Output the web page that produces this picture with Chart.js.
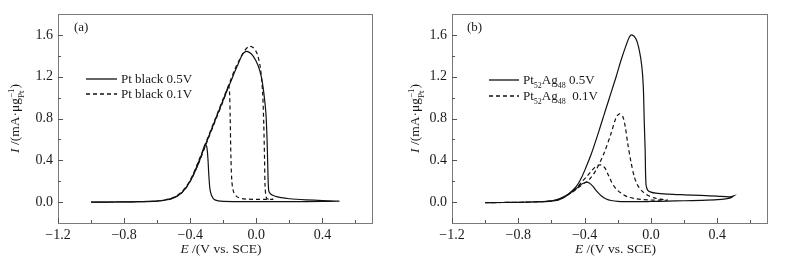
<!DOCTYPE html>
<html>
<head>
<meta charset="utf-8">
<script src="https://cdn.jsdelivr.net/npm/chart.js@4.4.1/dist/chart.umd.min.js"></script>
<style>
  body { margin: 0; background: #fff; }
  #wrap { position: relative; width: 785px; height: 262px; }
  canvas { position: absolute; top: 0; }
  #chartA { left: 0; }
  #chartB { left: 393px; }
</style>
</head>
<body>
<div id="wrap">
  <canvas id="chartA" width="393" height="262"></canvas>
  <canvas id="chartB" width="392" height="262"></canvas>
</div>
<script>
// axis ticks
const xTicks = [-1.2, -0.8, -0.4, 0, 0.4];
const xMinor = [-1.0, -0.6, -0.2, 0.2, 0.6];
const yTicks = [0, 0.4, 0.8, 1.2, 1.6];
const yMinor = [0.2, 0.6, 1.0, 1.4];

const xTitle = "*E* /(V vs. SCE)";
const yTitle = "*I* /(mA·μg_{Pt}^{−1})";

// panel (a) Pt black
const aLabels = ["Pt black 0.5V", "Pt black 0.1V"];
const aSolidE = [-1.0, -0.9, -0.8, -0.7, -0.6, -0.55, -0.5, -0.45, -0.4, -0.35, -0.33, -0.31, -0.3, -0.293, -0.287, -0.28, -0.27, -0.255, -0.23, -0.2, -0.1, 0.0, 0.2, 0.4, 0.5,
  0.5, 0.4, 0.3, 0.2, 0.15, 0.11, 0.085, 0.075, 0.07, 0.065, 0.058, 0.045, 0.03, 0.01, -0.02, -0.045, -0.065, -0.085, -0.105, -0.13, -0.15, -0.2, -0.25, -0.3, -0.35, -0.4, -0.45, -0.5, -0.55, -0.6, -0.7, -0.8, -1.0];
const aSolidI = [0, 0, 0.002, 0.004, 0.01, 0.02, 0.04, 0.09, 0.2, 0.37, 0.46, 0.55, 0.53, 0.42, 0.25, 0.12, 0.06, 0.025, 0.012, 0.007, 0.005, 0.005, 0.005, 0.006, 0.008,
  0.01, 0.015, 0.022, 0.032, 0.042, 0.058, 0.08, 0.11, 0.3, 0.6, 0.85, 1.05, 1.2, 1.31, 1.4, 1.435, 1.44, 1.41, 1.34, 1.25, 1.17, 0.98, 0.78, 0.58, 0.38, 0.2, 0.09, 0.04, 0.02, 0.01, 0.004, 0.002, 0];
const aDashE = [-1.0, -0.9, -0.8, -0.7, -0.6, -0.55, -0.5, -0.45, -0.4, -0.35, -0.3, -0.25, -0.2, -0.18, -0.168, -0.162, -0.158, -0.154, -0.148, -0.138, -0.12, -0.09, -0.05, 0.0, 0.05, 0.1,
  0.1, 0.07, 0.06, 0.053, 0.05, 0.045, 0.038, 0.025, 0.005, -0.02, -0.045, -0.07, -0.1, -0.13, -0.15, -0.2, -0.25, -0.3, -0.35, -0.4, -0.45, -0.5, -0.55, -0.6, -0.7, -0.8, -1.0];
const aDashI = [0, 0, 0.002, 0.004, 0.01, 0.02, 0.04, 0.09, 0.2, 0.37, 0.57, 0.77, 0.97, 1.06, 1.12, 1.05, 0.8, 0.45, 0.2, 0.1, 0.055, 0.035, 0.028, 0.026, 0.026, 0.027,
  0.028, 0.03, 0.045, 0.15, 0.4, 0.75, 1.05, 1.28, 1.42, 1.48, 1.49, 1.45, 1.37, 1.27, 1.19, 0.99, 0.79, 0.59, 0.39, 0.21, 0.1, 0.045, 0.022, 0.011, 0.004, 0.002, 0];

// panel (b) Pt52Ag48
const bLabels = ["Pt_{52}Ag_{48} 0.5V", "Pt_{52}Ag_{48}  0.1V"];
const bSolidE = [-1.0, -0.9, -0.8, -0.7, -0.6, -0.55, -0.5, -0.45, -0.42, -0.39, -0.37, -0.35, -0.33, -0.3, -0.27, -0.24, -0.2, -0.1, 0.0, 0.1, 0.2, 0.3, 0.4, 0.45, 0.48, 0.5,
  0.5, 0.47, 0.4, 0.3, 0.2, 0.1, 0.03, 0.0, -0.02, -0.03, -0.035, -0.04, -0.046, -0.055, -0.07, -0.09, -0.115, -0.13, -0.15, -0.18, -0.21, -0.24, -0.27, -0.3, -0.33, -0.36, -0.39, -0.42, -0.45, -0.5, -0.55, -0.6, -0.7, -0.8, -1.0];
const bSolidI = [-0.005, -0.004, -0.002, 0.002, 0.01, 0.025, 0.07, 0.13, 0.17, 0.19, 0.18, 0.15, 0.11, 0.06, 0.03, 0.015, 0.007, 0.004, 0.006, 0.009, 0.013, 0.017, 0.023, 0.03, 0.04, 0.06,
  0.06, 0.05, 0.058, 0.064, 0.07, 0.077, 0.085, 0.095, 0.115, 0.17, 0.5, 0.75, 1.1, 1.3, 1.45, 1.56, 1.6, 1.58, 1.5, 1.36, 1.2, 1.05, 0.9, 0.75, 0.6, 0.46, 0.34, 0.23, 0.15, 0.075, 0.035, 0.013, 0.003, -0.002, -0.005];
const bDashE = [-1.0, -0.9, -0.8, -0.7, -0.6, -0.55, -0.5, -0.45, -0.42, -0.39, -0.36, -0.34, -0.32, -0.305, -0.29, -0.275, -0.26, -0.24, -0.22, -0.2, -0.17, -0.14, -0.1, -0.06, 0.0, 0.05, 0.1,
  0.1, 0.06, 0.02, -0.02, -0.05, -0.08, -0.1, -0.12, -0.14, -0.155, -0.17, -0.19, -0.21, -0.24, -0.28, -0.33, -0.37, -0.42, -0.46, -0.5, -0.55, -0.6, -0.7, -0.8, -1.0];
const bDashI = [-0.005, -0.004, -0.002, 0.002, 0.01, 0.025, 0.07, 0.13, 0.19, 0.24, 0.295, 0.33, 0.352, 0.357, 0.348, 0.32, 0.27, 0.2, 0.145, 0.11, 0.075, 0.05, 0.035, 0.025, 0.02, 0.018, 0.018,
  0.02, 0.028, 0.04, 0.065, 0.1, 0.16, 0.24, 0.38, 0.56, 0.72, 0.82, 0.845, 0.81, 0.66, 0.48, 0.31, 0.22, 0.16, 0.11, 0.07, 0.03, 0.012, 0.002, -0.002, -0.005];

const ink = "#1a1a1a";
const serif = "'Liberation Serif', 'Times New Roman', serif";

const toPoints = (es, is) => es.map((e, i) => ({ x: e, y: is[i] }));
const fmt = (v) => (v < 0 ? "\u2212" : "") + Math.abs(v).toFixed(1);

// split "*I* /(mA·μg_{Pt}^{−1})" into runs: italic, sub, sup, normal
function parseRich(str) {
  const parts = [];
  const re = /\*([^*]*)\*|_\{([^}]*)\}|\^\{([^}]*)\}|([^*_^]+)/g;
  let m;
  while ((m = re.exec(str)) !== null) {
    if (m[1] !== undefined) parts.push({ t: m[1], k: "i" });
    else if (m[2] !== undefined) parts.push({ t: m[2], k: "sub" });
    else if (m[3] !== undefined) parts.push({ t: m[3], k: "sup" });
    else parts.push({ t: m[4], k: "n" });
  }
  return parts;
}

function runFont(k, size) {
  if (k === "i") return "italic " + size + "px " + serif;
  if (k === "sub" || k === "sup") return Math.round(size * 0.65) + "px " + serif;
  return size + "px " + serif;
}

function richWidth(ctx, parts, size) {
  let w = 0, lastStart = 0, lastW = 0, prev = null;
  parts.forEach((p) => {
    ctx.font = runFont(p.k, size);
    const pw = ctx.measureText(p.t).width;
    if (p.k === "sup" && prev === "sub") {
      w = lastStart + Math.max(lastW, pw);
    } else {
      lastStart = w;
      lastW = pw;
      w += pw;
    }
    prev = p.k;
  });
  return w;
}

// draws from x (left or centred), vertical middle at y
function drawRich(ctx, str, x, y, size, align) {
  const parts = parseRich(str);
  let cx = x;
  if (align === "center") cx = x - richWidth(ctx, parts, size) / 2;
  let lastStart = cx, lastW = 0, prev = null;
  ctx.textBaseline = "alphabetic";
  ctx.textAlign = "left";
  const base = y + size * 0.33;
  parts.forEach((p) => {
    ctx.font = runFont(p.k, size);
    const pw = ctx.measureText(p.t).width;
    let dy = 0;
    if (p.k === "sub") dy = size * 0.3;
    if (p.k === "sup") dy = -size * 0.4;
    if (p.k === "sup" && prev === "sub") {
      ctx.fillText(p.t, lastStart, base + dy);
      cx = lastStart + Math.max(lastW, pw);
    } else {
      ctx.fillText(p.t, cx, base + dy);
      lastStart = cx;
      lastW = pw;
      cx += pw;
    }
    prev = p.k;
  });
}

const decorPlugin = {
  id: "decor",
  afterDraw(chart, args, opts) {
    const ctx = chart.ctx;
    const a = chart.chartArea;
    const xs = chart.scales.x, ys = chart.scales.y;
    ctx.save();

    // frame
    ctx.strokeStyle = "#7a7a7a";
    ctx.lineWidth = 1;
    ctx.strokeRect(Math.round(a.left) + 0.5, Math.round(a.top) + 0.5,
      Math.round(a.right - a.left), Math.round(a.bottom - a.top));

    // inward ticks
    ctx.strokeStyle = "#555";
    ctx.beginPath();
    const tx = (v, len) => {
      const p = Math.round(xs.getPixelForValue(v)) + 0.5;
      ctx.moveTo(p, a.bottom); ctx.lineTo(p, a.bottom - len);
    };
    const ty = (v, len) => {
      const p = Math.round(ys.getPixelForValue(v)) + 0.5;
      ctx.moveTo(a.left, p); ctx.lineTo(a.left + len, p);
    };
    xTicks.forEach((v) => tx(v, 5));
    xMinor.forEach((v) => tx(v, 3));
    yTicks.forEach((v) => ty(v, 5));
    yMinor.forEach((v) => ty(v, 3));
    ctx.stroke();

    ctx.fillStyle = ink;
    // panel tag
    ctx.font = "13px " + serif;
    ctx.textBaseline = "alphabetic";
    ctx.fillText(opts.tag, a.left + opts.tagX, a.top + 17);

    // legend
    chart.data.datasets.forEach((ds, i) => {
      const y = a.top + opts.legendY[i];
      ctx.strokeStyle = ds.borderColor;
      ctx.lineWidth = 1.3;
      ctx.setLineDash(ds.borderDash || []);
      ctx.beginPath();
      ctx.moveTo(a.left + opts.legendX, y);
      ctx.lineTo(a.left + opts.legendX + opts.lineLen, y);
      ctx.stroke();
      ctx.setLineDash([]);
      drawRich(ctx, ds.label, a.left + opts.legendX + opts.lineLen + 4, y, 13, "left");
    });

    // axis titles
    drawRich(ctx, xTitle, (a.left + a.right) / 2 + opts.xTitleShift, 249, 13.5, "center");
    ctx.translate(opts.yTitleX, (a.top + a.bottom) / 2);
    ctx.rotate(-Math.PI / 2);
    drawRich(ctx, yTitle, 0, 0, 13.5, "center");
    ctx.restore();
  }
};

function makeChart(id, labels, solid, dash, deco) {
  return new Chart(document.getElementById(id), {
    type: "scatter",
    data: {
      datasets: [
        { label: labels[0], data: solid, showLine: true, borderColor: "#111", borderWidth: 1.2, pointRadius: 0, tension: 0.3, fill: false },
        { label: labels[1], data: dash, showLine: true, borderColor: "#111", borderWidth: 1.2, borderDash: [4, 3], pointRadius: 0, tension: 0.3, fill: false }
      ]
    },
    options: {
      responsive: false,
      animation: false,
      layout: { padding: { top: 14, right: deco.padRight, left: 0, bottom: 0 } },
      scales: {
        x: {
          type: "linear", min: -1.2, max: 0.7,
          grid: { display: false, drawTicks: false }, border: { display: false },
          afterBuildTicks: (s) => { s.ticks = xTicks.map((v) => ({ value: v })); },
          afterFit: (s) => { s.height = 39; },
          ticks: { padding: 4, color: ink, font: { family: serif, size: 14 }, maxRotation: 0, autoSkip: false, callback: fmt }
        },
        y: {
          type: "linear", min: -0.2, max: 1.8,
          grid: { display: false, drawTicks: false }, border: { display: false },
          afterBuildTicks: (s) => { s.ticks = yTicks.map((v) => ({ value: v })); },
          afterFit: (s) => { s.width = deco.axisW; },
          ticks: { padding: 5, color: ink, font: { family: serif, size: 14 }, autoSkip: false, callback: fmt }
        }
      },
      plugins: { legend: { display: false }, tooltip: { enabled: false }, decor: deco }
    },
    plugins: [decorPlugin]
  });
}

makeChart("chartA", aLabels, toPoints(aSolidE, aSolidI), toPoints(aDashE, aDashI),
  { padRight: 21, axisW: 58, tag: "(a)", tagX: 16, legendX: 28, lineLen: 31, legendY: [65, 80], xTitleShift: 6, yTitleX: 15 });
makeChart("chartB", bLabels, toPoints(bSolidE, bSolidI), toPoints(bDashE, bDashI),
  { padRight: 18, axisW: 59, tag: "(b)", tagX: 15, legendX: 37, lineLen: 30, legendY: [66, 82], xTitleShift: 6, yTitleX: 22 });
</script>
</body>
</html>
